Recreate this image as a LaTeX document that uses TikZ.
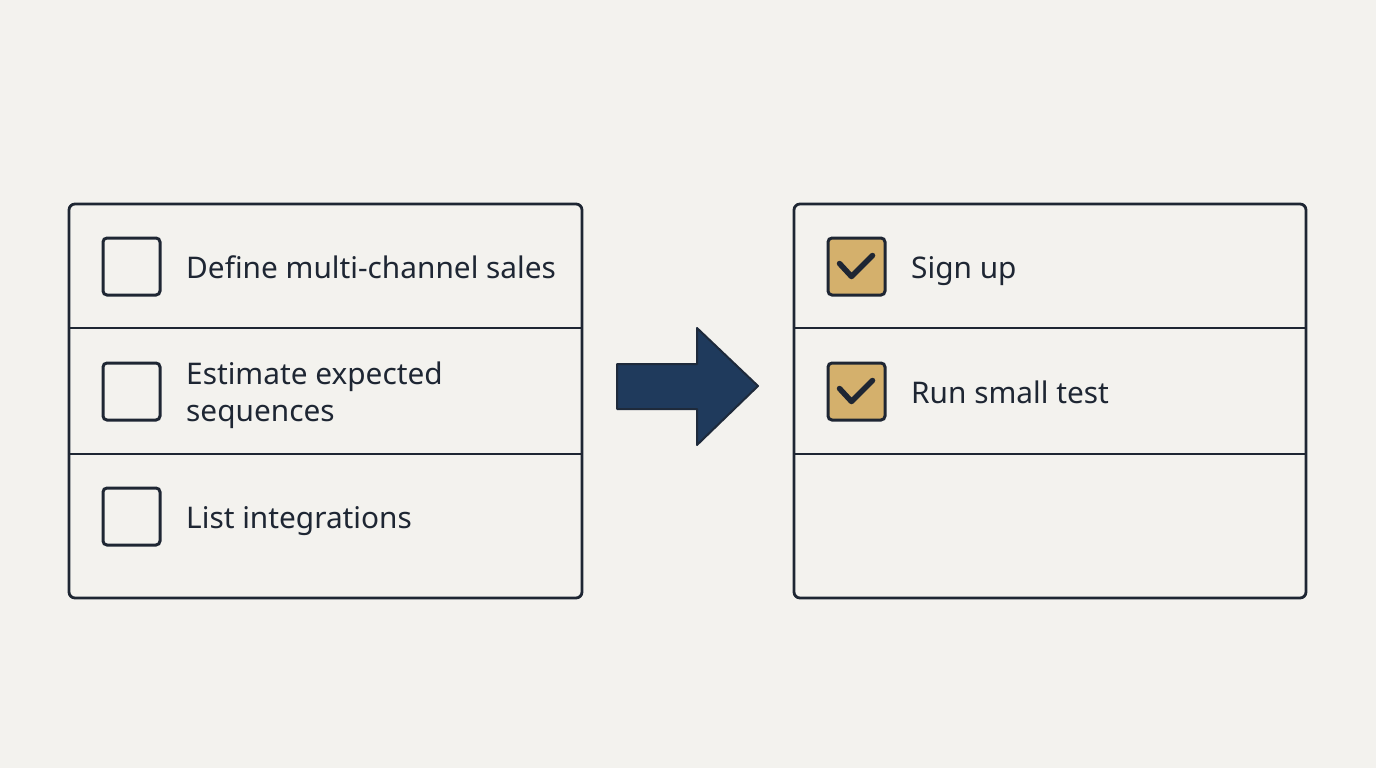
\documentclass[tikz,border=0pt]{standalone}
\usepackage{fontspec}
\setmainfont{Noto Sans}
\definecolor{bg}{HTML}{F3F2EE}
\definecolor{ink}{HTML}{1E2633}
\definecolor{navy}{HTML}{1F3A5C}
\definecolor{tan}{HTML}{D4B06C}
\begin{document}
\begin{tikzpicture}[x=1pt,y=-1pt,
  panel/.style={draw=ink,line width=2.8pt,rounded corners=6pt},
  divider/.style={draw=ink,line width=2.8pt},
  cbox/.style={draw=ink,line width=3pt,rounded corners=4pt,minimum width=57pt,minimum height=57pt,inner sep=0pt},
  donebox/.style={cbox,fill=tan},
  tick/.style={draw=ink,line width=5.5pt,line cap=round,line join=round},
  label/.style={anchor=base west,text=ink,font=\fontsize{29.8}{37}\selectfont,inner sep=0pt,align=left}
]
\useasboundingbox[fill=bg] (0,0) rectangle (1376,768);
% left panel
\draw[panel] (69,204) rectangle (582,598);
\draw[divider] (69,328) -- (582,328);
\draw[divider] (69,454) -- (582,454);
\node[cbox] (c1) at (131.5,266.5) {};
\node[cbox] (c2) at (131.5,391.5) {};
\node[cbox] (c3) at (131.5,516.5) {};
\node[label] (t1) at (186,278) {Define multi-channel sales};
\node[label] (t2) at (186,421) {Estimate expected\\sequences};
\node[label] (t3) at (186,528) {List integrations};
% arrow
\draw[fill=navy,draw=ink!80!navy,line width=2pt,line join=round] (617,364) -- (697,364) -- (697,328) -- (758,386) -- (697,445) -- (697,409) -- (617,409) -- cycle;
% right panel
\draw[panel] (794,204) rectangle (1306,598);
\draw[divider] (794,328) -- (1306,328);
\draw[divider] (794,454) -- (1306,454);
\node[donebox] (d1) at (856.5,266.5) {};
\node[donebox] (d2) at (856.5,391.5) {};
\draw[tick] ([shift={(-17,-3)}]d1.center) -- ([shift={(-5,10)}]d1.center) -- ([shift={(16,-11)}]d1.center);
\draw[tick] ([shift={(-17,-3)}]d2.center) -- ([shift={(-5,10)}]d2.center) -- ([shift={(16,-11)}]d2.center);
\node[label] (s1) at (911,278) {Sign up};
\node[label] (s2) at (911,403) {Run small test};
\end{tikzpicture}
\end{document}
